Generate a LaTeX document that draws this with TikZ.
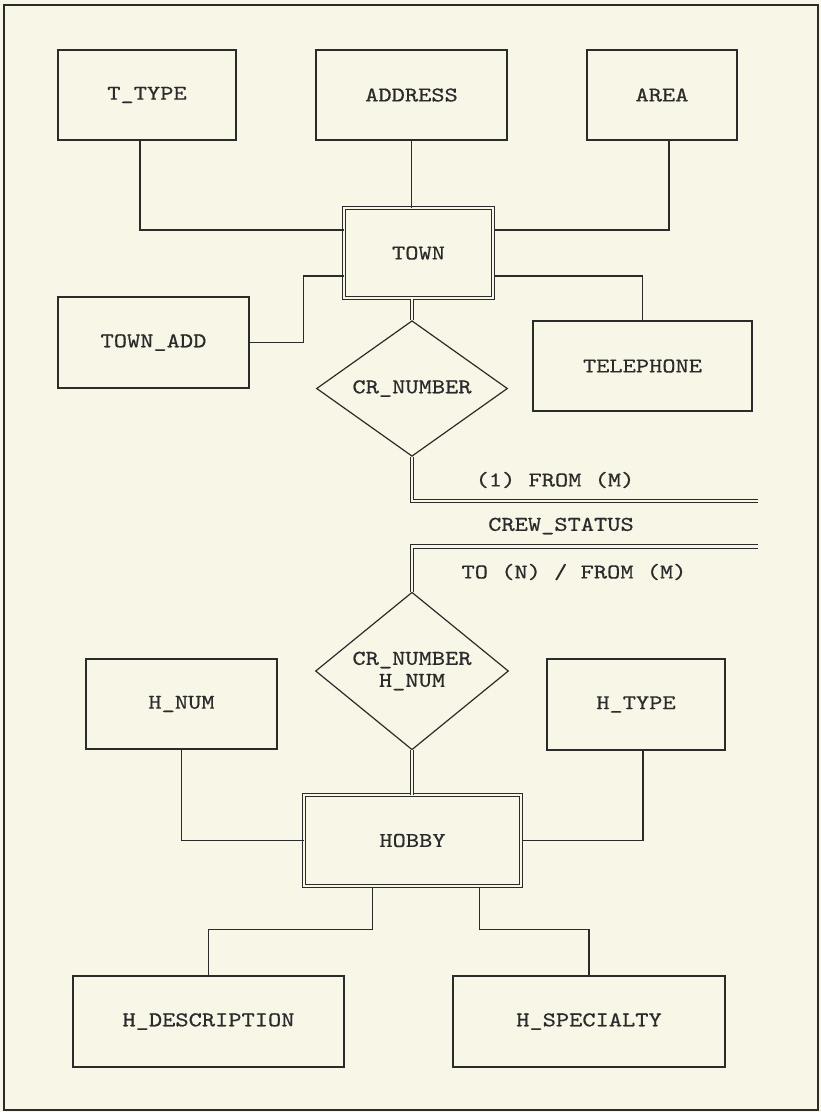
\documentclass[tikz,border=0pt]{standalone}
\usepackage{fontspec}
\newfontfamily\erfont[FakeStretch=1.2,FakeBold=0.6]{lmmono10-regular.otf}
\usetikzlibrary{shapes.geometric}
\definecolor{paper}{HTML}{F8F6E6}
\definecolor{ink}{HTML}{2B2B2B}
\begin{document}
\begin{tikzpicture}[x=1pt,y=-1pt,
  font=\erfont\fontsize{21}{22}\selectfont,
  attr/.style={draw=ink, line width=1.2pt, rectangle, inner sep=0pt, text=ink},
  ent/.style={draw=ink, line width=1pt, double=paper, double distance=2.2pt, rectangle, inner sep=0pt, text=ink},
  rel/.style={draw=ink, line width=1.2pt, diamond, inner sep=0pt, align=center, text=ink},
  conn/.style={draw=ink, line width=1.2pt},
  dconn/.style={draw=ink, line width=1pt, double=paper, double distance=2.2pt},
  lbl/.style={inner sep=0pt, text=ink}]
\useasboundingbox (0,0) rectangle (821,1112);
\fill[paper] (0,0) rectangle (821,1112);
\draw[ink, line width=1.4pt] (4,5) rectangle (818,1110);

% top entity
\node[attr, minimum width=178pt, minimum height=90pt] (ttype) at (147,95) {T\_TYPE};
\node[attr, minimum width=191pt, minimum height=90pt] (address) at (411.5,95) {ADDRESS};
\node[attr, minimum width=150pt, minimum height=90pt] (area) at (662,95) {AREA};
\node[ent, minimum width=149pt, minimum height=90pt] (town) at (418.5,253) {TOWN};
\node[attr, minimum width=191pt, minimum height=91pt] (townadd) at (153.5,342.5) {TOWN\_ADD};
\node[attr, minimum width=219pt, minimum height=90pt] (tel) at (642.5,366) {TELEPHONE};
\node[rel, minimum width=191pt, minimum height=113pt] (d1) at (412,388.5) {CR\_NUMBER};

\draw[conn] ([xshift=-7pt]ttype.south) |- ([yshift=23pt]town.west);
\draw[conn] (address.south) -- (address.south |- town.north);
\draw[conn] ([xshift=7pt]area.south) |- ([yshift=23pt]town.east);
\draw[conn] (townadd.east) -- ++(54,0) |- ([yshift=-23pt]town.west);
\draw[conn] (tel.north) |- ([yshift=-23pt]town.east);
\draw[dconn] (d1.north |- town.south) -- (d1.north);

% relationship
\coordinate (e1) at (758,501);
\coordinate (e2) at (758,546.5);
\draw[dconn] (d1.south) |- (e1);
\node[lbl] (l1) at (555,480) {(1) FROM (M)};
\node[lbl] (l2) at (561,526) {CREW\_STATUS};
\node[lbl] (l3) at (574,572) {TO (N) / FROM (M)};

% bottom entity
\node[rel, minimum width=193pt, minimum height=135pt] (d2) at (412,671) {CR\_NUMBER\\H\_NUM};
\draw[dconn] (e2) -| (d2.north);
\node[attr, minimum width=191pt, minimum height=90pt] (hnum) at (181.5,704) {H\_NUM};
\node[attr, minimum width=178pt, minimum height=91pt] (htype) at (636,704.5) {H\_TYPE};
\node[ent, minimum width=217pt, minimum height=91pt] (hobby) at (412.5,840.5) {HOBBY};
\node[attr, minimum width=271pt, minimum height=91pt] (hdesc) at (208.5,1021.5) {H\_DESCRIPTION};
\node[attr, minimum width=272pt, minimum height=91pt] (hspec) at (589,1021.5) {H\_SPECIALTY};

\draw[dconn] (d2.south) -- (d2.south |- hobby.north);
\draw[conn] (hnum.south) |- (hobby.west);
\draw[conn] ([xshift=7pt]htype.south) |- (hobby.east);
\draw[conn] ([xshift=-40pt]hobby.south) -- ++(0,43) -| (hdesc.north);
\draw[conn] ([xshift=67pt]hobby.south) -- ++(0,43) -| (hspec.north);
\end{tikzpicture}
\end{document}
